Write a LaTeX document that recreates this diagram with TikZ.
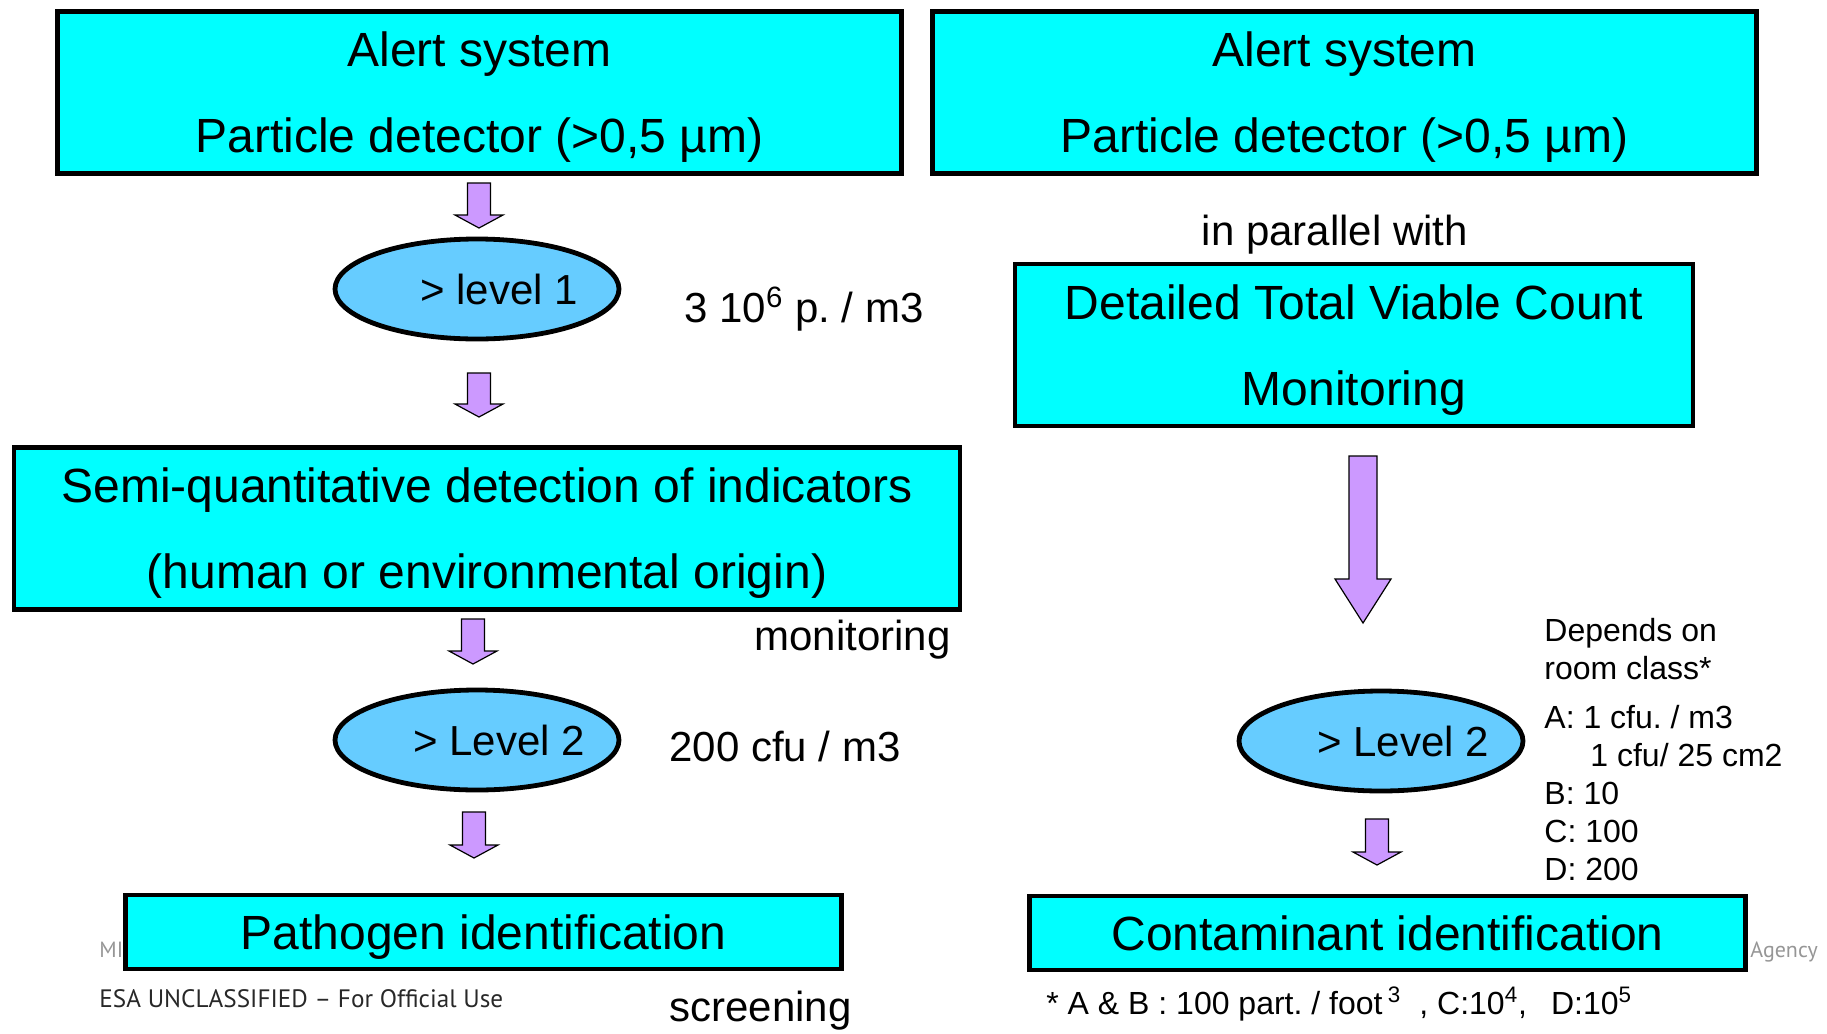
\documentclass[tikz,border=0pt]{standalone}
\usepackage{fontspec}
\setmainfont{Liberation Sans}
\newfontfamily\footfont{PT Sans}
\usetikzlibrary{shapes.geometric,calc}
\definecolor{boxcyan}{RGB}{0,255,255}
\definecolor{ellblue}{RGB}{102,204,255}
\definecolor{arrlav}{RGB}{204,153,255}
\definecolor{footgray}{RGB}{150,150,150}
\definecolor{footdark}{RGB}{40,40,40}
\frenchspacing
\newcommand\blockarr[5]{% start, end, shaft half, head half, head length
  \draw[barrow] ($(#1)+(-#3,0)$) -- ($(#1)+(#3,0)$) -- ($(#2)+(#3,-#5)$) -- ($(#2)+(#4,-#5)$) -- (#2)
    -- ($(#2)+(-#4,-#5)$) -- ($(#2)+(-#3,-#5)$) -- cycle;}
\newcommand\elltext[1]{\makebox[0pt]{\hspace*{22pt}#1}}
\begin{document}
\begin{tikzpicture}[x=0.5pt,y=-0.5pt,
  cbox/.style={draw=black,line width=2.4pt,fill=boxcyan,rectangle,align=center,inner sep=0pt,text depth=0pt,font=\fontsize{24}{43}\selectfont},
  lvl/.style={draw=black,line width=2.4pt,fill=ellblue,ellipse,inner sep=0pt,minimum width=142pt,minimum height=50pt,font=\fontsize{21}{25}\selectfont},
  lab/.style={inner sep=0pt,font=\fontsize{21}{25}\selectfont},
  smalltxt/.style={inner sep=0pt,font=\fontsize{16}{19}\selectfont,align=left},
  barrow/.style={draw=black,line width=0.6pt,fill=arrlav,line join=miter},
  foot/.style={inner sep=0pt,font=\footfont\fontsize{11}{13}\selectfont},
]
\useasboundingbox (0,0) rectangle (1827,1034);

% footer texts behind
\node[foot,text=footgray,anchor=west] (mi) at (99,950) {MI};
\node[foot,text=footgray,anchor=west] (agency) at (1750,952) {Agency};
\node[foot,text=footdark,anchor=west,font=\footfont\fontsize{12.6}{14}\selectfont] (esa) at (99,999) {ESA UNCLASSIFIED – For Official Use};

% left column
\node[cbox,minimum width=422pt,minimum height=81pt] (alertL) at (479.5,92.5) {Alert system\\Particle detector (>0,5 µm)};
\node[lvl] (lvl1) at (477,289) {\elltext{> level 1}};
\node[lab,anchor=west] (lvl1val) at (684,309) {3 10\textsuperscript{6} p. / m3};
\node[cbox,minimum width=473pt,minimum height=81pt] (semi) at (487,528.5) {Semi-quantitative detection of indicators\\(human or environmental origin)};
\node[lab,anchor=east] (monit) at (951,640) {monitoring};
\node[lvl] (lvl2L) at (477,740) {\elltext{> Level 2}};
\node[lab,anchor=west] (lvl2val) at (669,746) {200 cfu / m3};
\node[cbox,minimum width=358pt,minimum height=37pt] (patho) at (483.5,932) {Pathogen identification};
\node[lab,anchor=west] (screen) at (669,1011) {screening};

% right column
\node[cbox,minimum width=412pt,minimum height=81pt] (alertR) at (1344.5,92.5) {Alert system\\Particle detector (>0,5 µm)};
\node[lab] (parallel) at (1335,235) {in parallel with};
\node[cbox,minimum width=339pt,minimum height=81pt] (tvc) at (1354,345) {Detailed Total Viable Count\\Monitoring};
\node[lvl] (lvl2R) at (1381,741) {\elltext{> Level 2}};
\node[smalltxt,anchor=west] (dep) at (1544,649) {Depends on\\room class*};
\node[smalltxt,anchor=north west] (classes) at (1544,705) {A: 1 cfu. / m3\\\hspace*{23pt}1 cfu/ 25 cm2\\B: 10\\C: 100\\D: 200};
\node[cbox,minimum width=358pt,minimum height=37pt] (conta) at (1387.5,933) {Contaminant identification};
\node[smalltxt,anchor=west] (fnote) at (1046,1004) {* A \& B : 100 part. / foot\,\textsuperscript{3}\hspace{9pt}, C:10\textsuperscript{4},\hspace{12pt}D:10\textsuperscript{5}};

% block arrows
\coordinate (a1s) at (479,183); \coordinate (a1e) at (479,228);
\coordinate (a2s) at (479,373); \coordinate (a2e) at (479,417);
\coordinate (a3s) at (473,619); \coordinate (a3e) at (473,664);
\coordinate (a4s) at (474,812); \coordinate (a4e) at (474,858);
\coordinate (a5s) at (1377,819); \coordinate (a5e) at (1377,865);
\coordinate (a6s) at (1363,456); \coordinate (a6e) at (1363,623);
\blockarr{a1s}{a1e}{11.5}{24}{13}
\blockarr{a2s}{a2e}{11.5}{24}{13}
\blockarr{a3s}{a3e}{11.5}{24}{13}
\blockarr{a4s}{a4e}{11.5}{24}{13}
\blockarr{a5s}{a5e}{11.5}{24}{13}
\blockarr{a6s}{a6e}{14}{28}{44}
\end{tikzpicture}
\end{document}
